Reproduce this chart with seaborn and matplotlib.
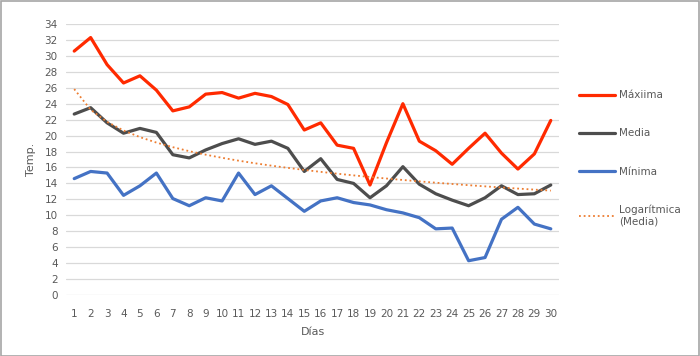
import numpy as np
import pandas as pd
import matplotlib
matplotlib.use("Agg")
import matplotlib.pyplot as plt
from matplotlib.lines import Line2D
from matplotlib.patches import Rectangle
import seaborn as sns

# Data
dias = list(range(1, 31))
maxima = [30.6, 32.3, 28.9, 26.6, 27.5, 25.7, 23.1, 23.6, 25.2, 25.4,
          24.7, 25.3, 24.9, 23.9, 20.7, 21.6, 18.8, 18.4, 13.8, 19.1,
          24.0, 19.3, 18.1, 16.4, 18.4, 20.3, 17.8, 15.8, 17.7, 21.9]
media = [22.7, 23.5, 21.6, 20.3, 20.9, 20.4, 17.6, 17.2, 18.2, 19.0,
         19.6, 18.9, 19.3, 18.4, 15.5, 17.1, 14.5, 14.0, 12.2, 13.7,
         16.1, 13.9, 12.7, 11.9, 11.2, 12.2, 13.7, 12.6, 12.7, 13.8]
minima = [14.6, 15.5, 15.3, 12.5, 13.7, 15.3, 12.1, 11.2, 12.2, 11.8,
          15.3, 12.6, 13.7, 12.1, 10.5, 11.8, 12.2, 11.6, 11.3, 10.7,
          10.3, 9.7, 8.3, 8.4, 4.3, 4.7, 9.5, 11.0, 8.9, 8.3]

labels = ["Máxiima", "Media", "Mínima", "Logarítmica\n(Media)"]
colors = ["#FF2A00", "#4D4D4D", "#4472C4", "#ED7D31"]

# logarithmic trendline of Media (like Excel's)
b, a = np.polyfit(np.log(dias), media, 1)
trend = a + b * np.log(dias)

df = pd.DataFrame({"Días": dias, "Máxiima": maxima, "Media": media,
                   "Mínima": minima, "Trend": trend})

sns.set_style("white")
plt.rcParams["font.family"] = ["DejaVu Sans"]
grey = "#595959"

fig = plt.figure(figsize=(7, 3.56), dpi=100)
ax = fig.add_axes([66 / 700, 61 / 356, 493 / 700, 271 / 356])

sns.lineplot(data=df, x="Días", y="Máxiima", color=colors[0], lw=2.3, ax=ax)
sns.lineplot(data=df, x="Días", y="Media", color=colors[1], lw=2.3, ax=ax)
sns.lineplot(data=df, x="Días", y="Mínima", color=colors[2], lw=2.3, ax=ax)
sns.lineplot(data=df, x="Días", y="Trend", color=colors[3], lw=1.3,
             linestyle=(0, (1, 1.6)), ax=ax)

ax.set_xlim(0.5, 30.5)
ax.set_ylim(0, 34)
ax.set_xticks(dias)
ax.set_yticks(range(0, 35, 2))
ax.tick_params(axis="both", length=0, labelsize=7.5, colors=grey)
ax.tick_params(axis="x", pad=10)
ax.tick_params(axis="y", pad=6)
ax.grid(axis="y", color="#D9D9D9", lw=0.9)
ax.set_axisbelow(True)
for s in ax.spines.values():
    s.set_visible(False)

ax.set_xlabel("Días", fontsize=8, color=grey, labelpad=6)
ax.set_ylabel("Temp.", fontsize=8, color=grey, labelpad=6)

handles = [
    Line2D([], [], color=colors[0], lw=2.3),
    Line2D([], [], color=colors[1], lw=2.3),
    Line2D([], [], color=colors[2], lw=2.3),
    Line2D([], [], color=colors[3], lw=1.3, linestyle=(0, (1, 1.6))),
]
fig.legend(handles, labels, loc="upper left", bbox_to_anchor=(570 / 700, 1 - 81 / 356),
           frameon=False, fontsize=7.5, labelcolor=grey, handlelength=3.4,
           handletextpad=0.4, labelspacing=2.7)

# outer chart border
fig.patches.append(Rectangle((0.001, 0.001), 0.998, 0.997, transform=fig.transFigure,
                             fill=False, edgecolor="#A6A6A6", lw=1.2))

fig.savefig("out.png", dpi=100)
